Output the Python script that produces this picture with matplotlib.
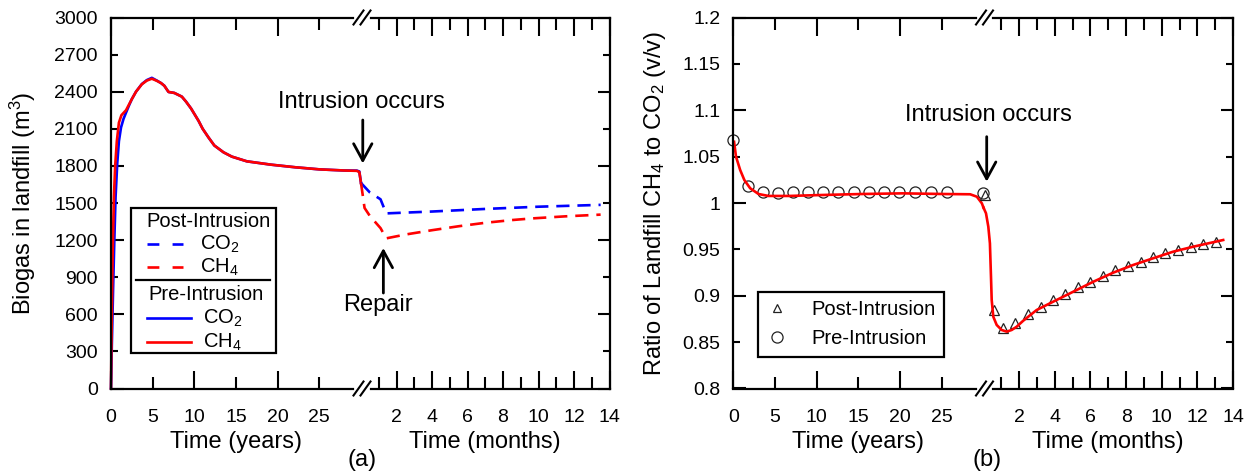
import matplotlib
matplotlib.use('Agg')
import matplotlib.pyplot as plt
from matplotlib.ticker import FixedLocator, FuncFormatter, NullFormatter
from matplotlib.lines import Line2D
from matplotlib.patches import Rectangle

plt.rcParams['font.family'] = ['Liberation Sans', 'DejaVu Sans']
plt.rcParams['mathtext.fontset'] = 'custom'
plt.rcParams['mathtext.rm'] = 'Liberation Sans'
plt.rcParams['mathtext.it'] = 'Liberation Sans:italic'
plt.rcParams['mathtext.bf'] = 'Liberation Sans:bold'
plt.rcParams['mathtext.default'] = 'regular'

W, H = 1255, 472

# ---------------- data ----------------
# (a) pre-intrusion biogas volume (m3), time in years
years_co2_pre = [0, 0.1, 0.25, 0.4, 0.55, 0.75, 0.95, 1.2, 1.5, 1.8, 2.2, 2.5, 3.0, 3.7, 4.3,
                 4.9, 5.5, 6.0, 6.4, 6.9, 7.6, 8.5, 9.0, 9.6, 10.5, 11.0, 11.7, 12.4, 13.5,
                 14.5, 16.3, 19.2, 22.1, 25.0, 27.9, 29.5, 29.8, 30.0]
co2_pre = [0, 350, 800, 1200, 1550, 1820, 2000, 2110, 2180, 2230, 2295, 2340, 2400, 2462, 2494,
           2512, 2490, 2470, 2448, 2398, 2390, 2360, 2320, 2265, 2165, 2100, 2030, 1965, 1910,
           1875, 1837, 1810, 1789, 1772, 1763, 1762, 1755, 1662]
years_ch4_pre = [0, 0.08, 0.2, 0.35, 0.5, 0.7, 0.95, 1.25, 1.8, 2.5, 3.0, 3.7, 4.3, 4.9, 5.5,
                 6.0, 6.4, 6.9, 7.6, 8.5, 9.0, 9.6, 10.5, 11.0, 11.7, 12.4, 13.5, 14.5, 16.3,
                 19.2, 22.1, 25.0, 27.9, 29.5, 29.8, 30.0]
ch4_pre = [0, 500, 1100, 1550, 1800, 2000, 2150, 2210, 2250, 2340, 2400, 2460, 2490, 2505, 2488,
           2470, 2448, 2398, 2390, 2360, 2320, 2265, 2165, 2100, 2030, 1965, 1910, 1875, 1837,
           1810, 1789, 1772, 1763, 1760, 1750, 1662]
# (a) post-intrusion biogas volume (m3), time in months
months_co2_post = [0, 0.5, 1.1, 1.42, 4, 7, 10, 13.5]
co2_post = [1662, 1585, 1530, 1416, 1431, 1452, 1470, 1485]
months_ch4_post = [0, 0.2, 0.5, 1.1, 1.42, 2.5, 4, 5.5, 7, 8.5, 9.6, 11.5, 13.5]
ch4_post = [1662, 1460, 1395, 1297, 1214, 1245, 1280, 1312, 1340, 1362, 1375, 1392, 1406]

# (b) ratio CH4/CO2: pre-intrusion markers (years)
years_ratio_pre = [0, 1.8, 3.6, 5.4, 7.2, 9.0, 10.8, 12.6, 14.5, 16.3, 18.1, 19.9, 21.8, 23.7,
                   25.6, 30.0]
ratio_pre = [1.068, 1.018, 1.0115, 1.0105, 1.0115, 1.012, 1.0115, 1.012, 1.012, 1.012, 1.012,
             1.012, 1.0118, 1.0115, 1.0115, 1.0104]
# (b) post-intrusion markers (months)
months_ratio_post = [0.08, 0.61, 1.11, 1.77, 2.51, 3.21, 3.88, 4.57, 5.32, 5.97, 6.69, 7.39,
                     8.12, 8.83, 9.52, 10.2, 10.9, 11.62, 12.29, 13.04]
ratio_post = [1.0086, 0.8846, 0.8649, 0.8710, 0.8803, 0.8882, 0.8954, 0.9019, 0.9091, 0.9151,
              0.9213, 0.9278, 0.9321, 0.9367, 0.9421, 0.9458, 0.9493, 0.9522, 0.9558, 0.9583]
# (b) model ratio curve, years part and months part
years_ratio_line = [0.07, 0.3, 0.8, 1.3, 2.0, 3.0, 4.2, 6.65, 10.5, 15.4, 20.3, 25.2, 28.4,
                    29.2, 29.8, 30.0]
ratio_line_y = [1.066, 1.050, 1.0356, 1.0248, 1.0159, 1.0097, 1.0076, 1.0076, 1.0086, 1.0097,
                1.0104, 1.0097, 1.0094, 1.0068, 0.9997, 0.995]
months_ratio_line = [0, 0.14, 0.27, 0.36, 0.42, 0.46, 0.55, 0.74, 1.02, 1.3, 1.58, 1.86, 2.23,
                     2.98, 3.91, 5.04, 6.16, 7.28, 8.4, 9.52, 10.64, 11.77, 13.45]
ratio_line_m = [0.995, 0.9889, 0.9745, 0.9565, 0.9205, 0.8954, 0.8774, 0.8685, 0.8631, 0.8613,
                0.8631, 0.8666, 0.8731, 0.8846, 0.8936, 0.9044, 0.9151, 0.9249, 0.9332, 0.9404,
                0.9475, 0.9529, 0.9601]

year_ticks_major = [0, 10, 20]
year_ticks_minor = [5, 15, 25]
month_ticks_major = [2, 4, 6, 8, 10, 12, 14]
month_ticks_minor = [1, 3, 5, 7, 9, 11, 13]
biogas_ticks_major = [0, 600, 1200, 1800, 2400, 3000]
biogas_ticks_minor = [300, 900, 1500, 2100, 2700]
ratio_ticks_major = [0.8, 0.9, 1.0, 1.1, 1.2]
ratio_ticks_minor = [0.85, 0.95, 1.05, 1.15]

# ---------------- figure ----------------
fig = plt.figure(figsize=(W / 100, H / 100), dpi=100)


def fx(x):
    return x / W


def fy(y):
    return 1 - y / H


def add_ax(x0, x1, y0, y1):
    ax = fig.add_axes([fx(x0), fy(y1), (x1 - x0) / W, (y1 - y0) / H])
    ax.patch.set_visible(False)
    return ax


TOP, BOT = 17.5, 388.5
LW_SP = 1.6
TICK_FS = 14
LAB_FS = 17
fmt = FuncFormatter(lambda v, p: f'{v:g}')


def style_pair(axL, axR, ylim, ymaj, ymin):
    for ax in (axL, axR):
        ax.set_ylim(*ylim)
        for s in ax.spines.values():
            s.set_linewidth(LW_SP)
        ax.yaxis.set_major_locator(FixedLocator(ymaj))
        ax.yaxis.set_minor_locator(FixedLocator(ymin))
        ax.tick_params(axis='both', which='both', direction='in', width=1.5,
                       labelsize=TICK_FS, colors='black')
        ax.tick_params(axis='x', which='major', length=13.3, pad=15, top=True, bottom=True)
        ax.tick_params(axis='x', which='minor', length=8.6, pad=15, top=True, bottom=True)
        ax.tick_params(axis='y', which='major', length=9, pad=9.5)
        ax.tick_params(axis='y', which='minor', length=5, pad=9.5)
    axL.set_xlim(0, 30)
    axR.set_xlim(0, 14)
    axL.spines['right'].set_visible(False)
    axR.spines['left'].set_visible(False)
    axL.xaxis.set_major_locator(FixedLocator(year_ticks_major))
    axL.xaxis.set_minor_locator(FixedLocator(year_ticks_minor))
    axL.xaxis.set_major_formatter(fmt)
    axL.xaxis.set_minor_formatter(fmt)
    axR.xaxis.set_major_locator(FixedLocator(month_ticks_major))
    axR.xaxis.set_minor_locator(FixedLocator(month_ticks_minor))
    axR.xaxis.set_major_formatter(fmt)
    axR.xaxis.set_minor_formatter(NullFormatter())
    axL.yaxis.set_major_formatter(fmt)
    axL.yaxis.set_minor_formatter(fmt)
    axL.tick_params(axis='y', which='both', left=True, right=False)
    axR.tick_params(axis='y', which='both', left=False, right=True, labelleft=False)
    for sp in ('top', 'bottom'):
        axL.spines[sp].set_bounds(0, 29.05)
        axR.spines[sp].set_bounds(0.56, 14)
    axL.set_xlabel('Time (years)', fontsize=LAB_FS)
    axR.set_xlabel('Time (months)', fontsize=LAB_FS)
    axL.xaxis.set_label_coords(0.5, -(431 - BOT) / (BOT - TOP))
    axR.xaxis.set_label_coords(0.5, -(431 - BOT) / (BOT - TOP))


def break_marks(J):
    cx = J + 1
    for y in (TOP, BOT):
        for d in (-3.5, 3.5):
            fig.add_artist(Line2D([fx(cx + d - 5), fx(cx + d + 5)], [fy(y + 7), fy(y - 7)],
                                  color='black', lw=1.5, transform=fig.transFigure, zorder=6))


# ---------- panel (a) ----------
JA = 361
aL = add_ax(111, JA, TOP, BOT)
aR = add_ax(JA, 609.5, TOP, BOT)
style_pair(aL, aR, (0, 3000), biogas_ticks_major, biogas_ticks_minor)
LW = 1.9
aL.plot(years_co2_pre, co2_pre, color='blue', lw=LW, clip_on=False)
aL.plot(years_ch4_pre, ch4_pre, color='red', lw=LW, clip_on=False)
aR.plot(months_co2_post, co2_post, color='blue', lw=LW, dashes=(5, 3), clip_on=False)
aR.plot(months_ch4_post, ch4_post, color='red', lw=LW, dashes=(5, 3), clip_on=False)
aL.set_ylabel('Biogas in landfill (m$^{3}$)', fontsize=LAB_FS)
aL.yaxis.set_label_coords(-(111 - 38) / (JA - 111), 0.5)

arrow_kw = dict(arrowstyle='->,head_length=0.55,head_width=0.3', lw=2, color='black',
                shrinkA=0, shrinkB=0, mutation_scale=22)
aR.annotate('', xy=(0.1, 1820), xytext=(0.1, 2171), arrowprops=arrow_kw, annotation_clip=False)
aR.text(0.0, 2318, 'Intrusion occurs', ha='center', va='center', fontsize=LAB_FS, clip_on=False)
aR.annotate('', xy=(1.26, 1136), xytext=(1.26, 772), arrowprops=arrow_kw, annotation_clip=False)
aR.text(0.93, 675, 'Repair', ha='center', va='center', fontsize=LAB_FS, clip_on=False)
break_marks(JA)
fig.text(fx(362), fy(460), '(a)', ha='center', va='center', fontsize=LAB_FS)

# manual legend for (a)
LEG_FS = 14.5
fig.add_artist(Rectangle((fx(131), fy(353.3)), fx(275.7) - fx(131), fy(207.7) - fy(353.3),
                         transform=fig.transFigure, fc='white', ec='black', lw=1.6, zorder=5))
fig.text(fx(208), fy(221.7), 'Post-Intrusion', ha='center', va='center', fontsize=LEG_FS, zorder=7)
fig.text(fx(206), fy(295), 'Pre-Intrusion', ha='center', va='center', fontsize=LEG_FS, zorder=7)
fig.add_artist(Line2D([fx(136), fx(270)], [fy(280)] * 2, color='black', lw=1.6,
                      transform=fig.transFigure, zorder=7))
for yy, col, ls, x1, lab, tx in [(244, 'blue', (0, (4.5, 5)), 183.3, 'CO$_2$', 200),
                                (267.3, 'red', (0, (4.5, 5)), 183.3, 'CH$_4$', 200),
                                (318.3, 'blue', '-', 191, 'CO$_2$', 202.7),
                                (342.3, 'red', '-', 191, 'CH$_4$', 202.7)]:
    fig.add_artist(Line2D([fx(146.7), fx(x1)], [fy(yy)] * 2, color=col, ls=ls, lw=LW,
                          transform=fig.transFigure, zorder=7))
    fig.text(fx(tx), fy(yy), lab, ha='left', va='center', fontsize=LEG_FS, zorder=7)

# ---------- panel (b) ----------
JB = 983.5
bL = add_ax(733.5, JB, TOP, BOT)
bR = add_ax(JB, 1233, TOP, BOT)
style_pair(bL, bR, (0.8, 1.2), ratio_ticks_major, ratio_ticks_minor)
mk_kw = dict(ls='none', mfc='none', mec='#222222', mew=0.9, clip_on=False)
bL.plot(years_ratio_pre, ratio_pre, marker='o', ms=8, **mk_kw)
bR.plot(months_ratio_post, ratio_post, marker='^', ms=7.5, **mk_kw)
bL.plot(years_ratio_line, ratio_line_y, color='red', lw=LW, clip_on=False)
bR.plot(months_ratio_line, ratio_line_m, color='red', lw=LW, clip_on=False)
bL.set_ylabel('Ratio of Landfill CH$_4$ to CO$_2$ (v/v)', fontsize=LAB_FS)
bL.yaxis.set_label_coords(-(733.5 - 668) / (JB - 733.5), 0.5)
bR.annotate('', xy=(0.18, 1.023), xytext=(0.18, 1.0715), arrowprops=arrow_kw,
            annotation_clip=False)
bR.text(0.25, 1.095, 'Intrusion occurs', ha='center', va='center', fontsize=LAB_FS,
        clip_on=False)
break_marks(JB)
fig.text(fx(986.6), fy(460), '(b)', ha='center', va='center', fontsize=LAB_FS)

h_kw = {k: v for k, v in mk_kw.items() if k != 'clip_on'}
h_post = Line2D([], [], marker='^', ms=5.5, **h_kw)
h_pre = Line2D([], [], marker='o', ms=8, **h_kw)
leg = bL.legend([h_post, h_pre], ['Post-Intrusion', 'Pre-Intrusion'], loc='upper left',
                bbox_to_anchor=((758.3 - 733.5) / (JB - 733.5), (BOT - 291.7) / (BOT - TOP)),
                borderaxespad=0, frameon=True, fancybox=False, edgecolor='black',
                framealpha=1, fontsize=LEG_FS, handlelength=1.0, handletextpad=1.2,
                borderpad=0.42, labelspacing=0.5)
leg.get_frame().set_linewidth(1.6)

fig.savefig('out.png', dpi=100)
